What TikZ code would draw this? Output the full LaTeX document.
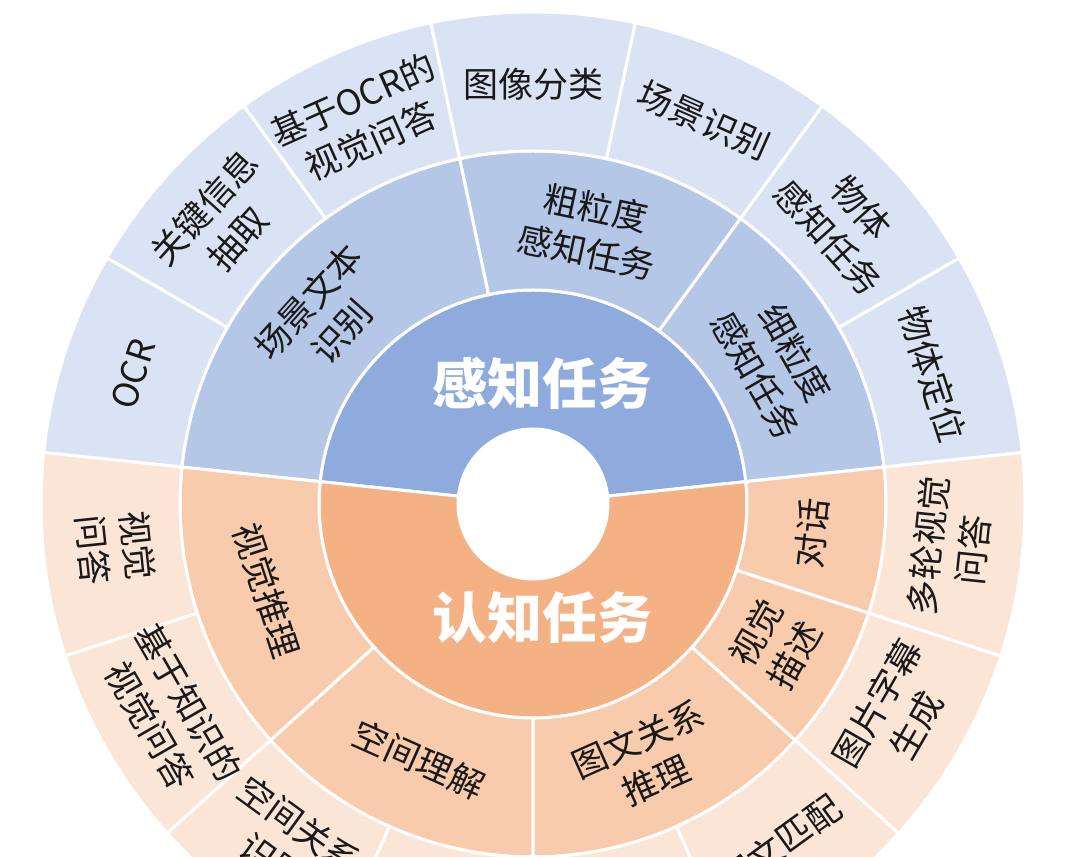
\documentclass[tikz,border=0pt]{standalone}
\usepackage{fontspec}
\newfontfamily\cjk{Noto Sans CJK SC}
\definecolor{pinner}{HTML}{8FAADC}
\definecolor{pmid}{HTML}{B4C7E7}
\definecolor{pout}{HTML}{DAE3F3}
\definecolor{cinner}{HTML}{F4B183}
\definecolor{cmid}{HTML}{F8CBAD}
\definecolor{cout}{HTML}{FBE5D6}
% color, inner radius, outer radius, start angle, end angle
\newcommand{\sbsector}[5]{%
  \filldraw[sep, fill=#1] (#4:#2) arc[start angle=#4, end angle=#5, radius=#2]
    -- (#5:#3) arc[start angle=#5, end angle=#4, radius=#3] -- cycle;}
\begin{document}
\begin{tikzpicture}[x=1pt,y=1pt,
  sep/.style={draw=white, line width=3pt, line join=round},
  leaf/.style={font=\cjk\fontsize{35}{45}\selectfont, text=black!90, align=center, inner sep=0pt},
  hub/.style={font=\cjk\bfseries\fontsize{55}{60}\selectfont, text=white, inner sep=0pt}]
\useasboundingbox (0,0) rectangle (1080,857);
\clip (0,0) rectangle (1080,857);
\begin{scope}[shift={(533,353)}]
  % inner ring
  \sbsector{pinner}{75}{214}{6}{174}
  \sbsector{cinner}{75}{214}{174}{366}
  % middle ring
  \sbsector{pmid}{214}{353}{6}{54}
  \sbsector{pmid}{214}{353}{54}{102}
  \sbsector{pmid}{214}{353}{102}{174}
  \sbsector{cmid}{214}{353}{174}{222}
  \sbsector{cmid}{214}{353}{222}{270}
  \sbsector{cmid}{214}{353}{270}{318}
  \sbsector{cmid}{214}{353}{318}{342}
  \sbsector{cmid}{214}{353}{342}{366}
  % outer ring
  \foreach \a in {6,30,54,78,102,126,150}{\sbsector{pout}{353}{492}{\a}{\a+24}}
  \foreach \a in {174,198,222,246,270,294,318,342}{\sbsector{cout}{353}{492}{\a}{\a+24}}
  \fill[white] (0,0) circle[radius=75];
  % hub labels
  \node[hub] (perc) at (9,121) {感知任务};
  \node[hub] (cogn) at (9,-114) {认知任务};
  % middle labels
  \node[leaf, rotate=-60] (xili) at (30:280) {细粒度\\感知任务};
  \node[leaf, rotate=-12] (culi) at (78:280) {粗粒度\\感知任务};
  \node[leaf, rotate=48] (cjwb) at (138:280) {场景文本\\识别};
  \node[leaf, rotate=-72] (sjtl) at (198:280) {视觉推理};
  \node[leaf, rotate=-24] (kjlj) at (246:280) {空间理解};
  \node[leaf, rotate=24] (twgx) at (294:280) {图文关系\\推理};
  \node[leaf, rotate=60] (sjms) at (330:280) {视觉\\描述};
  \node[leaf, rotate=84] (dh) at (354:280) {对话};
  % outer labels
  \node[leaf, rotate=-72] (wtdw) at (18:420) {物体定位};
  \node[leaf, rotate=-48] (wtgz) at (42:420) {物体\\感知任务};
  \node[leaf, rotate=-24] (cjsb) at (66:420) {场景识别};
  \node[leaf] (txfl) at (90:420) {图像分类};
  \node[leaf, rotate=24] (ocrqa) at (114:420) {基于OCR的\\视觉问答};
  \node[leaf, rotate=48] (gjxx) at (138:420) {关键信息\\抽取};
  \node[leaf, rotate=72] (ocr) at (162:420) {OCR};
  \node[leaf, rotate=-84] (sjwd) at (186:420) {视觉\\问答};
  \node[leaf, rotate=-60] (zsqa) at (210:420) {基于知识的\\视觉问答};
  \node[leaf, rotate=-36] (kjgx) at (234:420) {空间关系\\识别};
  \node[leaf, rotate=36] (twpp) at (306:420) {图文匹配};
  \node[leaf, rotate=60] (tpzm) at (330:420) {图片字幕\\生成};
  \node[leaf, rotate=84] (dlqa) at (354:420) {多轮视觉\\问答};
\end{scope}
\end{tikzpicture}
\end{document}
